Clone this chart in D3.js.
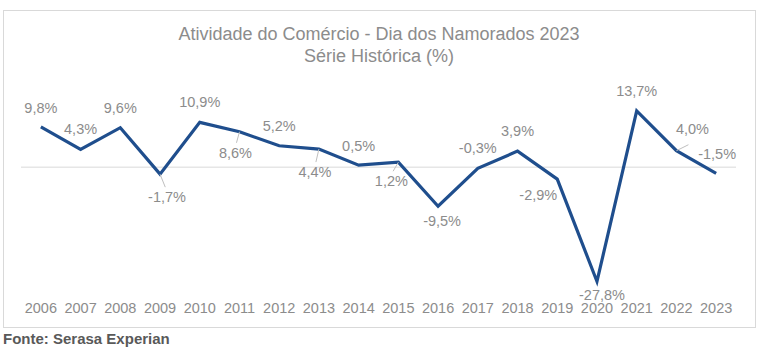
<!DOCTYPE html>
<html>
<head>
<meta charset="utf-8">
<script src="https://cdn.jsdelivr.net/npm/d3@7/dist/d3.min.js"></script>
<style>
  html, body { margin: 0; padding: 0; background: #ffffff; }
  svg { display: block; font-family: "Liberation Sans", Arial, sans-serif; }
</style>
</head>
<body>
<svg id="chart" width="760" height="358"></svg>
<script>
const years = ["2006","2007","2008","2009","2010","2011","2012","2013","2014","2015","2016","2017","2018","2019","2020","2021","2022","2023"];
const values = [9.8, 4.3, 9.6, -1.7, 10.9, 8.6, 5.2, 4.4, 0.5, 1.2, -9.5, -0.3, 3.9, -2.9, -27.8, 13.7, 4.0, -1.5];
const valueLabels = ["9,8%","4,3%","9,6%","-1,7%","10,9%","8,6%","5,2%","4,4%","0,5%","1,2%","-9,5%","-0,3%","3,9%","-2,9%","-27,8%","13,7%","4,0%","-1,5%"];
const titleLines = ["Atividade do Comércio - Dia dos Namorados 2023", "Série Histórica (%)"];
const sourceText = "Fonte: Serasa Experian";

// label offsets relative to each point (manual placement as in the original)
const labelOffsets = [
  [0,-14],[0,-15],[0,-15],[7,28],[0,-15],[-4,26],[0,-15],[-4,28],[0,-14],[-7,24],
  [4,20],[0,-15],[0,-15],[-19,21],[5,19],[0,-15],[16,-17],[1,-14]
];
const leaderIdx = [3,5,7,9,16];

const svg = d3.select("#chart");
const gray = "#8c8c8c";

// frame
svg.append("rect").attr("x",3.5).attr("y",10.5).attr("width",752).attr("height",317)
  .attr("fill","#fff").attr("stroke","#d9d9d9").attr("stroke-width",1);

// title
svg.append("text").attr("x",379).attr("y",40).attr("text-anchor","middle")
  .attr("font-size",18).attr("fill",gray).text(titleLines[0]);
svg.append("text").attr("x",379).attr("y",62).attr("text-anchor","middle")
  .attr("font-size",18).attr("fill",gray).text(titleLines[1]);

const x = d3.scaleBand().domain(years).range([21,736]).paddingInner(0).paddingOuter(0);
const y = d3.scaleLinear().domain([-30,15]).range([290.5,105.5]);

const cx = d => x(d) + x.bandwidth()/2;

// zero line
svg.append("line").attr("x1",21).attr("x2",736).attr("y1",y(0)).attr("y2",y(0))
  .attr("stroke","#d9d9d9").attr("stroke-width",1);

// x axis (labels only)
const xAxis = d3.axisBottom(x).tickSize(0).tickPadding(0);
const gx = svg.append("g").attr("transform","translate(0,303)").call(xAxis);
gx.select(".domain").remove();
gx.selectAll("text").attr("font-size",14.5).attr("fill",gray)
  .attr("font-family","'Liberation Sans', Arial, sans-serif").attr("dy","0.71em");

// line
const data = years.map((yr,i)=>({yr, v: values[i], lab: valueLabels[i], off: labelOffsets[i], i}));
const line = d3.line().x(d=>cx(d.yr)).y(d=>y(d.v));
svg.append("path").datum(data).attr("d",line).attr("fill","none")
  .attr("stroke","#1f4e8d").attr("stroke-width",3.2).attr("stroke-linejoin","miter");

// leader lines
svg.selectAll("line.leader").data(data.filter(d=>leaderIdx.includes(d.i))).enter()
  .append("line").attr("class","leader")
  .attr("x1",d=>cx(d.yr)).attr("y1",d=>y(d.v))
  .attr("x2",d=>cx(d.yr)+d.off[0]*0.75).attr("y2",d=>y(d.v)+(d.off[1]>0? d.off[1]-15 : d.off[1]+11))
  .attr("stroke","#bfbfbf").attr("stroke-width",1);

// labels
svg.selectAll("text.lab").data(data).enter().append("text").attr("class","lab")
  .attr("x",d=>cx(d.yr)+d.off[0]).attr("y",d=>y(d.v)+d.off[1])
  .attr("text-anchor","middle").attr("font-size",14.5).attr("fill",gray).text(d=>d.lab);

// source
svg.append("text").attr("x",3).attr("y",344).attr("font-size",15).attr("font-weight","bold")
  .attr("fill","#595959").text(sourceText);
</script>
</body>
</html>
